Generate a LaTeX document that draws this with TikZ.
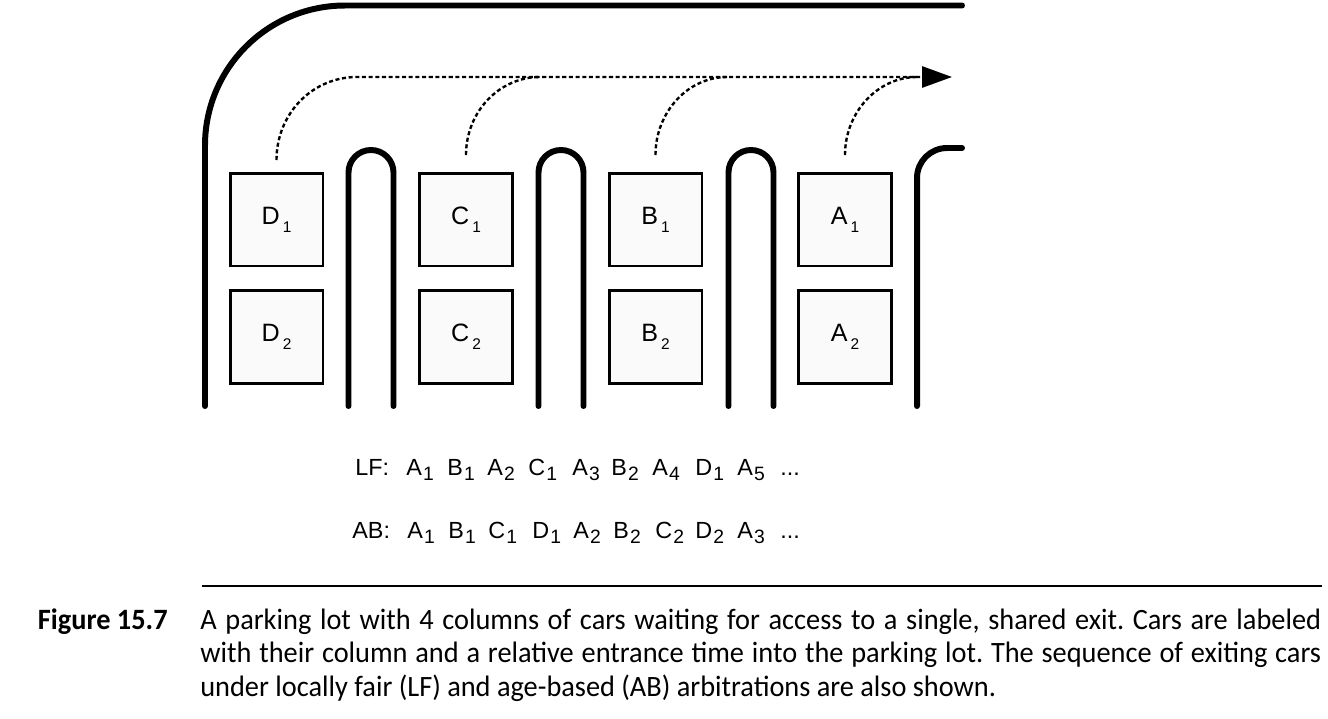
\documentclass[tikz,border=0pt]{standalone}
\usepackage{fontspec}
\setmainfont{Liberation Sans}
\newfontfamily\capfont{Carlito}[FakeStretch=0.96]
\usetikzlibrary{arrows.meta}
\frenchspacing

% lowered indices of the car labels
\newcommand{\carsub}[1]{\kern0.12em\raisebox{-0.32em}{\fontsize{8.8pt}{9pt}\selectfont #1}}
\newcommand{\seqsub}[1]{\kern0.05em\raisebox{-0.24em}{\fontsize{11pt}{12pt}\selectfont #1}}

\begin{document}
\begin{tikzpicture}[x=0.02cm,y=-0.02cm,
    wall/.style={line width=3.4pt,line cap=round},
    car/.style={draw,line width=1.7pt,fill=gray!4,minimum size=1.86cm,inner sep=0pt,
      font=\fontsize{14.3pt}{16pt}\selectfont},
    exitpath/.style={line width=1.35pt,dash pattern=on 2.3pt off 1.5pt},
    seq/.style={anchor=base west,inner sep=0pt,font=\fontsize{13.3pt}{15pt}\selectfont},
    captext/.style={anchor=base west,inner sep=0pt,font=\capfont\fontsize{16.8pt}{19pt}\selectfont}]
    \useasboundingbox (0,0) rectangle (1328,718);

    % walls of the lot
    \draw[wall,rounded corners=2.8cm] (205,406) -- (205,5.5) -- (962,5.5);
    \draw[wall,rounded corners=0.45cm] (348.5,406) -- (348.5,150) -- (393.5,150) -- (393.5,406);
    \draw[wall,rounded corners=0.45cm] (538.5,406) -- (538.5,150) -- (583.5,150) -- (583.5,406);
    \draw[wall,rounded corners=0.45cm] (728.5,406) -- (728.5,150) -- (773.5,150) -- (773.5,406);
    \draw[wall,rounded corners=0.6cm] (917,406) -- (917,148) -- (962,148);

    % cars
    \node[car] (d1) at (276.5,219.5) {D\carsub{1}};
    \node[car] (d2) at (276.5,337) {D\carsub{2}};
    \node[car] (c1) at (466,219.5) {C\carsub{1}};
    \node[car] (c2) at (466,337) {C\carsub{2}};
    \node[car] (b1) at (655.5,219.5) {B\carsub{1}};
    \node[car] (b2) at (655.5,337) {B\carsub{2}};
    \node[car] (a1) at (845,219.5) {A\carsub{1}};
    \node[car] (a2) at (845,337) {A\carsub{2}};

    % paths to the exit
    \coordinate (dout) at (276.5,160);
    \coordinate (cout) at (466,155);
    \coordinate (bout) at (655.5,155);
    \coordinate (aout) at (845,155);
    \coordinate (exit) at (952,77);
    \draw[exitpath,-{Triangle[length=17pt,width=12pt]}] (dout) .. controls (276.5,114) and (312,77) .. (357,77) -- (exit);
    \draw[exitpath] (cout) .. controls (466,112) and (499,77) .. (540,77);
    \draw[exitpath] (bout) .. controls (655.5,112) and (688,77) .. (727,77);
    \draw[exitpath] (aout) .. controls (845,112) and (878,77) .. (917,77);

    % exit orders
    \node[seq] (lf) at (355,475) {LF:};
    \node[seq] (lf1) at (406,475) {A\seqsub{1}};
    \node[seq] (lf2) at (447,475) {B\seqsub{1}};
    \node[seq] (lf3) at (487,475) {A\seqsub{2}};
    \node[seq] (lf4) at (528,475) {C\seqsub{1}};
    \node[seq] (lf5) at (572,475) {A\seqsub{3}};
    \node[seq] (lf6) at (611,475) {B\seqsub{2}};
    \node[seq] (lf7) at (652,475) {A\seqsub{4}};
    \node[seq] (lf8) at (695,475) {D\seqsub{1}};
    \node[seq] (lf9) at (737,475) {A\seqsub{5}};
    \node[seq] (lfdots) at (780,475) {...};

    \node[seq] (ab) at (352,538) {AB:};
    \node[seq] (ab1) at (407,538) {A\seqsub{1}};
    \node[seq] (ab2) at (448,538) {B\seqsub{1}};
    \node[seq] (ab3) at (488,538) {C\seqsub{1}};
    \node[seq] (ab4) at (532,538) {D\seqsub{1}};
    \node[seq] (ab5) at (573,538) {A\seqsub{2}};
    \node[seq] (ab6) at (613,538) {B\seqsub{2}};
    \node[seq] (ab7) at (655,538) {C\seqsub{2}};
    \node[seq] (ab8) at (695,538) {D\seqsub{2}};
    \node[seq] (ab9) at (737,538) {A\seqsub{3}};
    \node[seq] (abdots) at (780,538) {...};

    % caption
    \draw[line width=1.1pt] (202,586) -- (1322,586);
    \node[captext,font=\capfont\bfseries\fontsize{16.8pt}{19pt}\selectfont,anchor=base east] (figno) at (168,629) {Figure 15.7};
    \node[captext] (cap1) at (200,629) {\makebox[22.42cm][s]{A parking lot with 4 columns of cars waiting for access to a single, shared exit. Cars are labeled}};
    \node[captext] (cap2) at (200,662) {\makebox[22.42cm][s]{with their column and a relative entrance time into the parking lot. The sequence of exiting cars}};
    \node[captext] (cap3) at (200,696) {under locally fair (LF) and age-based (AB) arbitrations are also shown.};
\end{tikzpicture}
\end{document}
